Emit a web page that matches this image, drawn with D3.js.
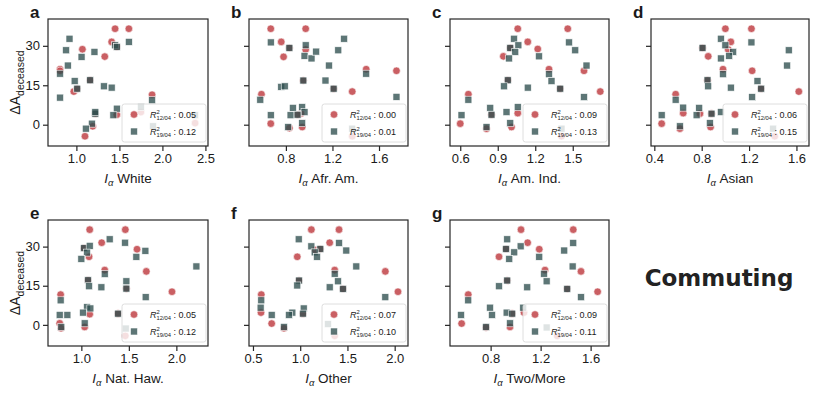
<!DOCTYPE html>
<html><head><meta charset="utf-8">
<script src="https://cdn.jsdelivr.net/npm/d3@7"></script>
<style>body{margin:0;background:#fff}svg{display:block}</style>
</head><body>
<svg id="chart" width="817" height="393"></svg>
<script>
// ---- data: [I_alpha, delta A deceased] ----
const aCircles=[[1.45,36.5],[1.61,36.5],[1.41,31.5],[1.07,28.7],[1.33,25.9],[0.81,21.1],[0.81,20.5],[0.97,12.6],[1.88,11.4],[1.47,3.8],[1.19,-0.6],[1.10,-4.4],[2.38,0.6],[1.75,4.8],[1.16,16.9],[1.01,13.7],[1.47,29.6],[1.22,4.2]];
const aSquares=[[0.92,32.7],[0.88,28.3],[1.06,25.8],[0.90,22.5],[0.81,19.4],[0.98,16.6],[1.01,13.7],[1.16,16.9],[1.21,27.7],[1.32,14.6],[1.41,14.1],[1.45,30.2],[1.47,29.6],[1.61,31.5],[0.81,10.3],[1.22,4.2],[1.22,4.8],[1.47,6.1],[1.43,3.6],[1.18,0.4],[1.11,-1.5],[1.88,9.3],[1.75,6.7],[1.89,-0.6],[2.38,3.6]];
const bCircles=[[0.67,36.5],[0.97,36.5],[0.76,31.5],[0.78,25.8],[0.97,28.6],[1.49,21.1],[1.75,20.5],[0.59,11.6],[1.37,12.6],[0.67,0.4],[0.83,-1.3],[0.94,-0.9],[1.37,-4.4],[0.93,4.3],[0.83,29.2],[0.95,16.8],[1.21,13.7],[0.90,3.8]];
const bSquares=[[0.67,31.3],[0.83,29.2],[0.97,30.2],[0.96,26.2],[1.02,25.2],[1.06,27.8],[1.25,28.3],[1.30,32.7],[1.17,22.5],[1.14,16.8],[0.95,16.8],[1.21,13.7],[0.76,14.4],[0.79,14.6],[0.58,9.5],[1.75,10.6],[1.49,19.4],[0.86,6.4],[0.94,6.7],[0.96,4.8],[0.84,3.6],[0.90,3.8],[0.67,3.6],[0.82,-0.9],[0.94,0.6],[1.37,-1.5]];
const cCircles=[[1.06,36.5],[1.46,36.5],[1.14,31.5],[1.22,28.8],[0.945,26.0],[1.31,21.1],[1.59,20.5],[0.665,11.6],[1.72,12.6],[0.60,0.4],[0.81,-1.5],[1.01,-0.9],[1.41,-4.4],[1.06,4.4],[1.0,29.2],[0.98,16.9],[1.40,13.7],[0.85,3.8]];
const cSquares=[[1.03,32.7],[1.0,29.2],[1.065,30.2],[1.04,27.7],[0.99,25.2],[1.23,26.0],[1.47,31.3],[1.52,28.3],[1.61,22.5],[1.31,19.2],[1.33,16.6],[0.98,16.9],[0.95,14.6],[1.14,14.1],[1.40,13.7],[1.59,10.5],[0.665,9.5],[0.84,6.4],[0.85,3.8],[0.97,4.8],[1.06,6.7],[0.61,3.6],[1.0,0.6],[0.81,-0.9],[1.41,-1.5]];
const dCircles=[[1.0,36.5],[1.22,36.5],[1.046,31.5],[1.024,28.6],[0.855,26.0],[0.98,21.1],[1.226,20.5],[0.58,11.6],[1.62,12.6],[0.462,0.4],[0.616,-1.5],[0.875,-0.9],[1.417,-4.4],[0.644,4.4],[0.785,4.2],[0.807,29.2],[0.849,16.9],[1.302,13.7],[0.883,4.2]];
const dSquares=[[0.962,32.7],[0.807,29.2],[1.0,30.2],[1.066,27.7],[1.032,26.2],[0.962,25.2],[1.22,31.3],[1.535,28.3],[1.521,22.5],[0.98,19.2],[1.271,16.6],[0.849,16.9],[0.855,14.6],[1.046,14.1],[1.302,13.7],[1.226,10.5],[0.58,9.5],[0.644,6.5],[0.779,6.4],[0.883,4.2],[0.757,3.6],[0.962,4.8],[0.869,0.6],[0.462,3.6],[0.616,-0.6],[1.403,-1.5]];
const eCircles=[[1.088,36.5],[1.463,36.5],[1.214,31.5],[1.586,29.0],[1.081,26.1],[1.246,21.0],[1.684,20.5],[0.782,11.6],[1.954,12.7],[0.772,0.6],[0.786,-1.3],[1.035,-0.8],[1.463,-4.2],[1.088,4.1],[1.028,29.4],[1.07,17.1],[1.474,13.9],[1.386,4.3]];
const eSquares=[[1.298,32.8],[1.028,29.4],[1.088,30.3],[1.06,27.7],[1.0,25.3],[1.579,26.1],[1.46,31.5],[1.674,28.4],[2.211,22.4],[1.246,19.5],[1.474,16.7],[1.07,17.1],[1.081,14.8],[1.211,14.4],[1.474,13.9],[1.677,10.6],[0.782,9.4],[1.06,6.8],[1.018,4.7],[1.095,6.3],[1.386,4.3],[0.772,3.8],[0.853,3.8],[1.035,0.6],[0.789,-0.8],[1.467,-1.4]];
const fCircles=[[1.118,36.5],[1.411,36.5],[1.312,31.5],[0.969,26.1],[1.365,21.0],[1.901,20.5],[0.588,11.6],[2.035,12.7],[0.585,4.7],[0.698,0.5],[0.828,-1.3],[1.365,-4.2],[1.16,28.7],[1.213,29.1],[0.987,17.0],[1.453,13.8],[1.029,4.3]];
const fSquares=[[0.984,32.8],[1.118,30.1],[1.213,29.1],[1.153,27.8],[1.178,26.1],[1.411,31.4],[1.488,28.5],[1.594,22.4],[1.365,19.6],[1.4,16.7],[0.987,17.0],[0.969,15.1],[1.312,14.4],[1.453,13.8],[1.901,10.6],[0.588,9.4],[0.581,6.6],[1.037,6.3],[0.917,4.7],[0.881,3.8],[1.029,4.3],[0.698,3.8],[0.828,-0.8],[1.294,0.3]];
const gCircles=[[1.043,36.5],[1.461,36.5],[1.096,31.5],[1.189,29.0],[0.867,26.1],[1.235,21.0],[1.523,20.5],[0.621,11.6],[1.656,12.7],[0.568,0.5],[0.763,-1.0],[0.955,-0.8],[1.333,-4.2],[1.067,4.7],[0.923,29.1],[0.933,17.0],[1.413,13.8],[0.973,4.3]];
const gSquares=[[0.933,32.8],[0.923,29.1],[1.04,30.1],[0.989,27.8],[0.949,25.3],[1.189,26.1],[1.389,28.5],[1.461,31.4],[1.456,22.4],[1.227,19.6],[1.248,16.7],[0.933,17.0],[0.867,14.8],[1.093,14.4],[1.413,13.8],[1.523,10.6],[0.621,9.4],[0.795,6.6],[0.928,4.7],[0.811,3.8],[0.973,4.3],[0.563,3.8],[0.955,0.6],[0.763,-0.8],[1.061,6.6],[1.248,-1.0]];

const groups=["White","Afr. Am.","Am. Ind.","Asian","Nat. Haw.","Other","Two/More"];
const panelLetters=["a","b","c","d","e","f","g"];
const r2Apr12=["0.05","0.00","0.09","0.06","0.05","0.07","0.09"];
const r2Apr19=["0.12","0.01","0.13","0.15","0.12","0.10","0.11"];
const xTicks=[[1.0,1.5,2.0,2.5],[0.8,1.2,1.6],[0.6,0.9,1.2,1.5],[0.4,0.8,1.2,1.6],[1.0,1.5,2.0],[0.5,1.0,1.5,2.0],[0.8,1.2,1.6]];
const xDomains=[[0.67,2.53],[0.483,1.849],[0.518,1.79],[0.372,1.706],[0.649,2.333],[0.458,2.141],[0.475,1.747]];
const yTicks=[0,15,30];
const yDomain=[-8.1,40.2];
const circleSets=[aCircles,bCircles,cCircles,dCircles,eCircles,fCircles,gCircles];
const squareSets=[aSquares,bSquares,cSquares,dSquares,eSquares,fSquares,gSquares];
const sideTitle="Commuting";

// ---- layout ----
const colX=[[48,208],[249,408],[450,609],[651,809]];
const rowY=[[19,146],[220,346]];
const RED="#c44e52", TEAL="#2f4f4f", AX="#262626";
const FONT="'Liberation Sans', Arial, sans-serif";
const CR=3.8, S=7;

const svg=d3.select("#chart");

groups.forEach((g,i)=>{
  const col=i<4?i:i-4, row=i<4?0:1;
  const [L,R]=colX[col], [T,B]=rowY[row];
  const x=d3.scaleLinear().domain(xDomains[i]).range([L,R]);
  const y=d3.scaleLinear().domain(yDomain).range([B,T]);
  const p=svg.append("g");

  // points: circles (12/04) then squares (19/04)
  p.append("g").selectAll("circle").data(circleSets[i]).join("circle")
    .attr("cx",d=>x(d[0])).attr("cy",d=>y(d[1])).attr("r",CR)
    .attr("fill",RED).attr("fill-opacity",0.9).attr("stroke","#fff").attr("stroke-width",0.6);
  p.append("g").selectAll("rect").data(squareSets[i]).join("rect")
    .attr("x",d=>x(d[0])-S/2).attr("y",d=>y(d[1])-S/2).attr("width",S).attr("height",S)
    .attr("fill",TEAL).attr("fill-opacity",0.78).attr("stroke","#fff").attr("stroke-width",0.6);

  // axes
  const xa=p.append("g").attr("transform",`translate(0,${B})`)
    .call(d3.axisBottom(x).tickValues(xTicks[i]).tickFormat(d3.format(".1f")).tickSize(5).tickPadding(3));
  const ya=p.append("g").attr("transform",`translate(${L},0)`)
    .call(d3.axisLeft(y).tickValues(yTicks).tickSize(5).tickPadding(3).tickFormat(col===0?d3.format("d"):""));
  [xa,ya].forEach(a=>{
    a.select(".domain").remove();
    a.selectAll("line").attr("stroke",AX).attr("stroke-width",1.2);
    a.selectAll("text").attr("fill","#1a1a1a").style("font-family",FONT).style("font-size","13px");
  });
  // frame
  p.append("rect").attr("x",L).attr("y",T).attr("width",R-L).attr("height",B-T)
    .attr("fill","none").attr("stroke",AX).attr("stroke-width",1.2);

  // legend
  const lg=p.append("g").attr("transform",`translate(${R-86},${B-42})`);
  lg.append("rect").attr("width",84).attr("height",38).attr("rx",2.5)
    .attr("fill","#fff").attr("fill-opacity",0.8).attr("stroke","#d6d6d6").attr("stroke-width",0.8);
  lg.append("circle").attr("cx",12).attr("cy",10.5).attr("r",CR).attr("fill",RED).attr("fill-opacity",0.9).attr("stroke","#fff").attr("stroke-width",0.6);
  lg.append("rect").attr("x",12-S/2).attr("y",27.5-S/2).attr("width",S).attr("height",S).attr("fill",TEAL).attr("fill-opacity",0.78).attr("stroke","#fff").attr("stroke-width",0.6);
  [[r2Apr12[i],"12/04",13.5],[r2Apr19[i],"19/04",30.5]].forEach(([v,sub,by])=>{
    const t=lg.append("text").attr("x",28).attr("y",by).attr("fill","#1a1a1a")
      .style("font-family",FONT).style("font-size","9px");
    t.append("tspan").attr("font-style","italic").text("R");
    t.append("tspan").attr("dy",-4).style("font-size","5.8px").text("2");
    t.append("tspan").attr("dx",-3.2).attr("dy",6.5).style("font-size","5.8px").text(sub);
    t.append("tspan").attr("dy",-2.5).text(" : "+v);
  });

  // x label
  const xl=p.append("text").attr("x",(L+R)/2).attr("y",B+36.5).attr("text-anchor","middle")
    .attr("fill","#1a1a1a").style("font-family",FONT).style("font-size","13.5px");
  xl.append("tspan").attr("font-style","italic").text("I");
  xl.append("tspan").attr("font-style","italic").attr("dy",3).style("font-size","9.5px").text("α");
  xl.append("tspan").attr("dy",-3).text(" "+g);

  // y label
  if(col===0){
    const yl=p.append("text").attr("transform",`translate(20,${(T+B)/2}) rotate(-90)`).attr("text-anchor","middle")
      .attr("fill","#1a1a1a").style("font-family",FONT).style("font-size","14px");
    yl.append("tspan").text("ΔA");
    yl.append("tspan").attr("dy",3.5).style("font-size","10.5px").text("deceased");
  }
  // panel letter
  p.append("text").attr("x",L-18).attr("y",T-1).attr("fill","#1a1a1a")
    .style("font-family",FONT).style("font-weight","bold").style("font-size","17px").text(panelLetters[i]);
});

svg.append("text").attr("x",719).attr("y",285.5).attr("text-anchor","middle").attr("fill","#222")
  .style("font-family","'DejaVu Sans', sans-serif").style("font-weight","bold").style("font-size","23px").text(sideTitle);
</script>
</body></html>
